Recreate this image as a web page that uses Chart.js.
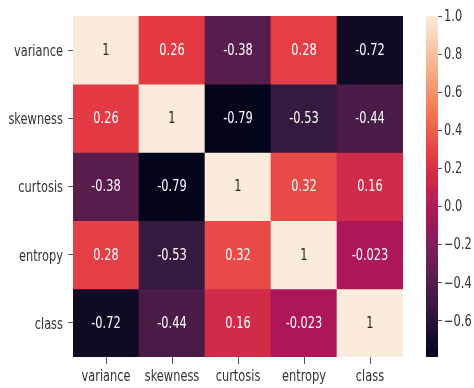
<!DOCTYPE html>
<html>
<head>
<meta charset="utf-8">
<script src="https://cdn.jsdelivr.net/npm/chart.js@4.4.1/dist/chart.umd.min.js"></script>
<style>
  html, body { margin: 0; padding: 0; background: #ffffff; }
  #wrap { position: relative; width: 474px; height: 388px; overflow: hidden; }
  #heat { position: absolute; left: 0; top: 0; }
  #cbar { position: absolute; left: 420px; top: 0; }
</style>
</head>
<body>
<div id="wrap">
  <canvas id="heat" width="420" height="388"></canvas>
  <canvas id="cbar" width="54" height="388"></canvas>
</div>
<script>
// Feature names (rows and columns of the correlation matrix)
const features = ["variance", "skewness", "curtosis", "entropy", "class"];

// Correlation values, one array per row
const varianceRow = [1, 0.26, -0.38, 0.28, -0.72];
const skewnessRow = [0.26, 1, -0.79, -0.53, -0.44];
const curtosisRow = [-0.38, -0.79, 1, 0.32, 0.16];
const entropyRow  = [0.28, -0.53, 0.32, 1, -0.023];
const classRow    = [-0.72, -0.44, 0.16, -0.023, 1];
const rows = [varianceRow, skewnessRow, curtosisRow, entropyRow, classRow];

// Colour bar tick values
const colorbarTicks = [-0.6, -0.4, -0.2, 0.0, 0.2, 0.4, 0.6, 0.8, 1.0];

// "rocket" colormap anchor stops
const rocketStops = [
  [0 / 7, "#03051a"], [1 / 7, "#35193e"], [2 / 7, "#701f57"], [3 / 7, "#ad1759"],
  [4 / 7, "#e13342"], [5 / 7, "#f37651"], [6 / 7, "#f6b48f"], [7 / 7, "#faebdd"]
];

const allValues = rows.flat();
const vmin = Math.min(...allValues);
const vmax = Math.max(...allValues);

// Narrow text style: a horizontally squeezed sans face
const FONT = "15px 'DejaVu Sans', sans-serif";
const SQUEEZE = 0.76;
const LABEL_COLOR = "#333333";
const TICK_COLOR = "#555555";

function hexToRgb(h) {
  return [parseInt(h.slice(1, 3), 16), parseInt(h.slice(3, 5), 16), parseInt(h.slice(5, 7), 16)];
}
function rocketRgb(t) {
  t = Math.max(0, Math.min(1, t));
  for (let k = 0; k < rocketStops.length - 1; k++) {
    const [t0, c0] = rocketStops[k];
    const [t1, c1] = rocketStops[k + 1];
    if (t <= t1) {
      const f = (t - t0) / (t1 - t0);
      const a = hexToRgb(c0), b = hexToRgb(c1);
      return a.map((v, i) => Math.round(v + (b[i] - v) * f));
    }
  }
  return hexToRgb(rocketStops[rocketStops.length - 1][1]);
}
function colorFor(v) {
  const [r, g, b] = rocketRgb((v - vmin) / (vmax - vmin));
  return `rgb(${r},${g},${b})`;
}
function textColorFor(v) {
  const c = rocketRgb((v - vmin) / (vmax - vmin)).map(x => {
    x /= 255;
    return x <= 0.03928 ? x / 12.92 : Math.pow((x + 0.055) / 1.055, 2.4);
  });
  const lum = 0.2126 * c[0] + 0.7152 * c[1] + 0.0722 * c[2];
  return lum > 0.408 ? "#262626" : "#ffffff";
}
function fmt(v) {
  return String(Number(v.toPrecision(2)));
}
function drawText(ctx, text, x, y, align, color) {
  ctx.save();
  ctx.font = FONT;
  ctx.fillStyle = color;
  ctx.textAlign = align;
  ctx.textBaseline = "middle";
  ctx.translate(x, y);
  ctx.scale(SQUEEZE, 1);
  ctx.fillText(text, 0, 0);
  ctx.restore();
}

Chart.defaults.font.family = "'DejaVu Sans', sans-serif";
Chart.defaults.font.size = 12;
Chart.defaults.animation = false;

// Cell values plus the row / column names
const heatText = {
  id: "heatText",
  afterDraw(chart) {
    const { ctx } = chart;
    const xs = chart.scales.x, ys = chart.scales.y;
    rows.forEach((row, i) => {
      row.forEach((v, j) => {
        drawText(ctx, fmt(v), xs.getPixelForValue(j), ys.getPixelForValue(i + 0.5) + 1, "center", textColorFor(v));
      });
    });
    features.forEach((name, j) => {
      drawText(ctx, name, xs.getPixelForValue(j), xs.top + 20, "center", LABEL_COLOR);
    });
    features.forEach((name, i) => {
      drawText(ctx, name, ys.right - 10, ys.getPixelForValue(i + 0.5) + 2, "right", LABEL_COLOR);
    });
  }
};

new Chart(document.getElementById("heat"), {
  type: "bar",
  data: {
    labels: features,
    datasets: rows.map((row, i) => ({
      label: features[i],
      data: row.map(() => [i, i + 1]),
      backgroundColor: row.map(colorFor),
      borderWidth: 0,
      barPercentage: 1,
      categoryPercentage: 1,
      grouped: false
    }))
  },
  options: {
    responsive: false,
    layout: { padding: { top: 16, right: 17, left: 0, bottom: 0 } },
    plugins: { legend: { display: false }, tooltip: { enabled: false } },
    scales: {
      x: {
        offset: true,
        grid: { offset: false, drawOnChartArea: false, drawTicks: true, tickLength: 7, color: TICK_COLOR },
        border: { display: false },
        ticks: { color: "rgba(0,0,0,0)", padding: 4, maxRotation: 0 },
        afterFit(scale) { scale.height = 31; }
      },
      y: {
        type: "linear",
        min: 0,
        max: 5,
        reverse: true,
        grid: { drawOnChartArea: false, drawTicks: true, tickLength: 5, color: TICK_COLOR },
        border: { display: false },
        afterBuildTicks(scale) {
          scale.ticks = features.map((_, i) => ({ value: i + 0.5 }));
        },
        ticks: {
          color: "rgba(0,0,0,0)",
          padding: 3,
          callback: (v) => features[Math.floor(v)]
        },
        afterFit(scale) { scale.width = 73; }
      }
    }
  },
  plugins: [heatText]
});

// Colour bar tick labels
const barText = {
  id: "barText",
  afterDraw(chart) {
    const ys = chart.scales.y;
    colorbarTicks.forEach(v => {
      drawText(chart.ctx, v.toFixed(1).replace("-", "\u2212"), ys.left + 6, ys.getPixelForValue(v) + 1, "left", LABEL_COLOR);
    });
  }
};

// Colour bar: a single floating bar spanning the value range, filled with the colormap
new Chart(document.getElementById("cbar"), {
  type: "bar",
  data: {
    labels: [""],
    datasets: [{
      data: [[vmin, vmax]],
      borderWidth: 0,
      barPercentage: 1,
      categoryPercentage: 1,
      backgroundColor(context) {
        const area = context.chart.chartArea;
        if (!area) return "#000";
        const g = context.chart.ctx.createLinearGradient(0, area.bottom, 0, area.top);
        for (let s = 0; s <= 32; s++) {
          const t = s / 32;
          const [r, gg, b] = rocketRgb(t);
          g.addColorStop(t, `rgb(${r},${gg},${b})`);
        }
        return g;
      }
    }]
  },
  options: {
    responsive: false,
    layout: { padding: { top: 16, bottom: 31, left: 6, right: 0 } },
    plugins: { legend: { display: false }, tooltip: { enabled: false } },
    scales: {
      x: { display: false },
      y: {
        position: "right",
        min: vmin,
        max: vmax,
        grid: { drawOnChartArea: false, drawTicks: true, tickLength: 4, color: TICK_COLOR },
        border: { display: false },
        afterBuildTicks(scale) {
          scale.ticks = colorbarTicks.map(v => ({ value: v }));
        },
        ticks: {
          color: "rgba(0,0,0,0)",
          padding: 3,
          callback: (v) => v.toFixed(1)
        },
        afterFit(scale) { scale.width = 36; }
      }
    }
  },
  plugins: [barText]
});
</script>
</body>
</html>
